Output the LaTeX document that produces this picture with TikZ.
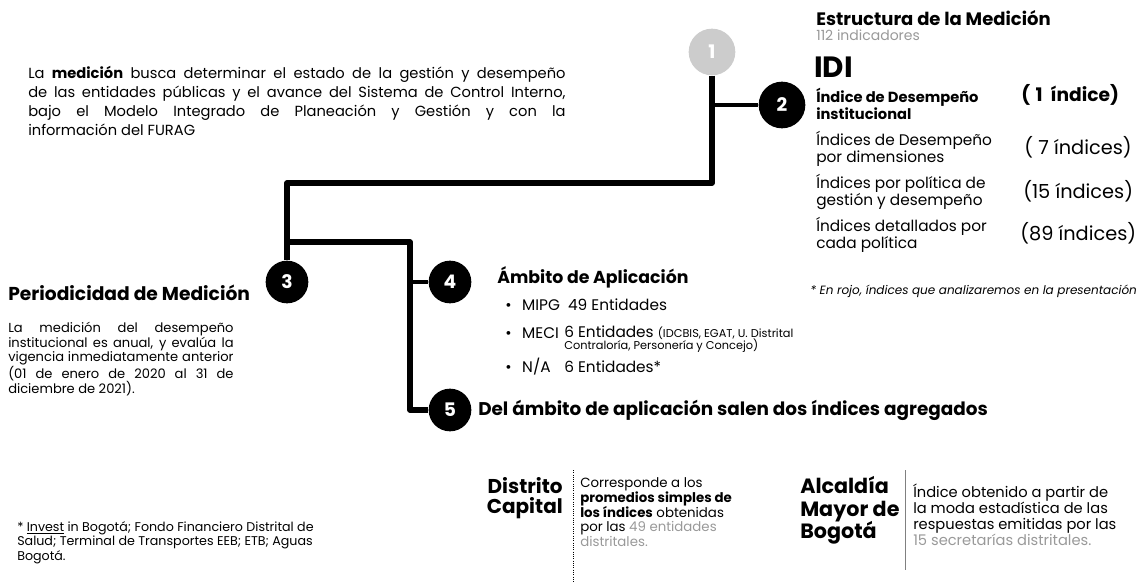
\documentclass[tikz,border=0pt]{standalone}
\usepackage{fontspec}
\setmainfont{Poppins}
\usetikzlibrary{positioning}
\definecolor{faded}{gray}{0.6}

\begin{document}
\begin{tikzpicture}[x=0.75pt,y=-0.75pt,
        stepdot/.style={circle,fill=black,minimum size=32pt,inner sep=0pt,text=white,font=\bfseries\fontsize{14}{14}\selectfont},
        stepbig/.style={stepdot,minimum size=35pt},
        stepgray/.style={stepbig,fill=gray!40},
        trunk/.style={line width=4.2pt,line join=round},
        twig/.style={line width=3pt},
        txt/.style={anchor=west,inner sep=0pt,align=left,font=\fontsize{11.5}{11.5}\selectfont},
        big/.style={anchor=west,inner sep=0pt,font=\fontsize{14.5}{14.5}\selectfont}]
        \useasboundingbox (0,0) rectangle (1143,582);
        \node[stepgray] (n1) at (712,52) {1};
        \node[stepbig] (n2) at (782,105) {2};
        \node[stepdot] (n3) at (287,282) {3};
        \node[stepdot] (n4) at (450,282) {4};
        \node[stepdot] (n5) at (450,410) {5};
        \coordinate (knee) at (712,183);
        \coordinate (fork) at (287,242);
        \coordinate (spine) at (410,242);
        \draw[trunk] (n1) -- (knee) -| (n3);
        \draw[twig] (n1 |- n2) -- (n2);
        \draw[trunk] (fork) -- (spine) |- (n5);
        \draw[twig] (spine |- n4) -- (n4);

        \node[anchor=north west,inner sep=0pt,text width=403pt,align=justify,font=\fontsize{11}{14.25}\selectfont] (intro) at (28,66)
            {La \textbf{medición} busca determinar el estado de la gestión y desempeño\linebreak de las entidades públicas y el avance del Sistema de Control Interno,\linebreak bajo el Modelo Integrado de Planeación y Gestión y con la\linebreak información del FURAG};

        \node[anchor=west,inner sep=0pt,font=\bfseries\fontsize{13.5}{13.5}\selectfont] (struct) at (816,18) {Estructura de la Medición};
        \node[txt,text=faded,font=\fontsize{10.5}{10.5}\selectfont] (count) at (816,35) {112 indicadores};
        \node[anchor=west,inner sep=0pt,font=\bfseries\fontsize{22}{22}\selectfont] (idi) at (814,67) {IDI};
        \node[txt,font=\bfseries\fontsize{11}{11.5}\selectfont] (lvla) at (816,104) {Índice de Desempeño\\institucional};
        \node[big,font=\bfseries\fontsize{14}{14}\selectfont] (numa) at (1021,95) {(\hspace{4pt}1\hspace{6pt}índice)};
        \node[txt] (lvlb) at (816,149) {Índices de Desempeño\\por dimensiones};
        \node[big] (numb) at (1024,147) {(\hspace{4pt}7 índices)};
        \node[txt] (lvlc) at (816,192) {Índices por política de\\gestión y desempeño};
        \node[big] (numc) at (1023,191) {(15 índices)};
        \node[txt] (lvld) at (816,235) {Índices detallados por\\cada política};
        \node[big] (numd) at (1020,233) {(89 índices)};
        \node[anchor=west,inner sep=0pt,font=\itshape\fontsize{9}{9}\selectfont] (note) at (810,291) {* En rojo, índices que analizaremos en la presentación};

        \node[anchor=west,inner sep=0pt,font=\bfseries\fontsize{14}{14}\selectfont] (period) at (8,293) {Periodicidad de Medición};
        \node[anchor=north west,inner sep=0pt,text width=169pt,align=justify,font=\fontsize{9.8}{11}\selectfont] (periodtxt) at (8,322)
            {La medición del desempeño\linebreak institucional es anual, y evalúa la\linebreak vigencia inmediatamente anterior\linebreak (01 de enero de 2020 al 31 de\linebreak diciembre de 2021).};

        \node[anchor=west,inner sep=0pt,font=\bfseries\fontsize{13}{13}\selectfont] (scope) at (497,277) {Ámbito de Aplicación};
        \node[txt] (mipg) at (505,305) {•\hspace{8pt}MIPG\hspace{6pt}49 Entidades};
        \node[txt] (meci) at (505,333) {•\hspace{8pt}MECI};
        \node[txt] (meciqty) at (564,333) {6 Entidades {\fontsize{8.5}{9}\selectfont (IDCBIS, EGAT, U. Distrital}};
        \node[txt,font=\fontsize{8.5}{9}\selectfont] (meciext) at (564,346) {Contraloría, Personería y Concejo)};
        \node[txt] (na) at (505,367) {•\hspace{8pt}N/A};
        \node[txt] (naqty) at (564,367) {6 Entidades*};

        \node[anchor=west,inner sep=0pt,font=\bfseries\fontsize{13.8}{13.8}\selectfont] (agg) at (478,410) {Del ámbito de aplicación salen dos índices agregados};

        \node[anchor=north east,inner sep=0pt,align=right,font=\bfseries\fontsize{15}{15.5}\selectfont] (dc) at (563,477) {Distrito\\Capital};
        \node[anchor=north west,inner sep=0pt,align=left,font=\fontsize{10}{11.2}\selectfont] (dctxt) at (580,477)
            {Corresponde a los\\\textbf{promedios simples de}\\\textbf{los índices} obtenidas\\por las {\color{faded}49 entidades}\\{\color{faded}distritales.}};
        \node[anchor=north west,inner sep=0pt,align=left,font=\bfseries\fontsize{15.5}{17}\selectfont] (amb) at (800,476) {Alcaldía\\Mayor de\\Bogotá};
        \node[anchor=north west,inner sep=0pt,align=left,font=\fontsize{11}{12}\selectfont] (ambtxt) at (913,484)
            {Índice obtenido a partir de\\la moda estadística de las\\respuestas emitidas por las\\{\color{faded}15 secretarías distritales.}};
        \coordinate (sepa) at (573,470);
        \coordinate (sepb) at (905,470);
        \draw[densely dotted,line width=0.7pt] (sepa) -- ++(0,112);
        \draw[gray] (sepb) -- ++(0,100);

        \node[anchor=north west,inner sep=0pt,align=left,font=\fontsize{9.5}{9.5}\selectfont] (foot) at (17,521)
            {* \underline{Invest} in Bogotá; Fondo Financiero Distrital de\\Salud; Terminal de Transportes EEB; ETB; Aguas\\Bogotá.};
    \end{tikzpicture}
\end{document}
